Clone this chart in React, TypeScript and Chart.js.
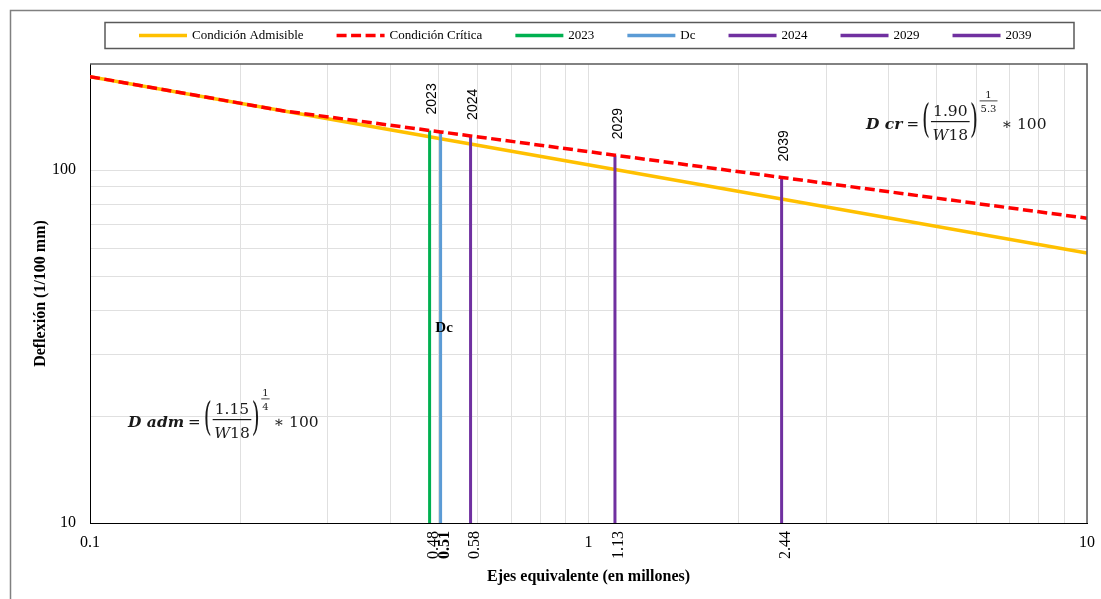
import React, { useEffect, useRef } from 'react';
import { Chart, registerables } from 'chart.js';

Chart.register(...registerables);

// ---------- DATA ----------
const admX = [0.1, 0.48, 0.505, 0.58, 1.13, 2.44, 10];
const admY = [184.2, 124.4, 122.8, 118.7, 100.4, 82.9, 58.2];

const critX = [0.1, 0.245, 0.48, 0.505, 0.58, 1.13, 2.44, 10];
const critY = [184.2, 147.2, 129.6, 128.4, 125.1, 110.3, 95.4, 73.1];

const markNames = ['2023', 'Dc', '2024', '2029', '2039'];
const markX = [0.48, 0.505, 0.58, 1.13, 2.44];
const markTop = [129.6, 128.4, 125.1, 110.3, 95.4];
const markBase = 10;
const markXLabels = ['0.48', '0.51', '0.58', '1.13', '2.44'];
const dcLabelY = 35.7;

const xGridValues = [0.1, 0.2, 0.3, 0.4, 0.5, 0.6, 0.7, 0.8, 0.9, 1, 2, 3, 4, 5, 6, 7, 8, 9, 10];
const xTickValues = [0.1, 1, 10];
const yGridValues = [10, 20, 30, 40, 50, 60, 70, 80, 90, 100, 200];
const yTickValues = [10, 100];

const seriesLabels = ['Condición Admisible', 'Condición Crítica'];
const xTitle = 'Ejes equivalente (en millones)';
const yTitle = 'Deflexión (1/100 mm)';

// ---------- STYLES ----------
const markColors = ['#00B050', '#5B9BD5', '#7030A0', '#7030A0', '#7030A0'];
const SERIF = '"Liberation Serif", "Times New Roman", serif';
const MATH = '"DejaVu Serif", serif';

type Piece = { t: string; italic?: boolean };

function drawFormula(
  ctx: CanvasRenderingContext2D,
  x0: number,
  base: number,
  lhs: string,
  num: string,
  den: Piece[],
  eNum: string,
  eDen: string
) {
  ctx.save();
  ctx.fillStyle = '#1a1a1a';
  ctx.textAlign = 'left';
  ctx.textBaseline = 'alphabetic';
  let x = x0;
  ctx.font = `bold italic 15.5px ${MATH}`;
  ctx.fillText(lhs, x, base);
  x += ctx.measureText(lhs).width + 4;
  ctx.font = `15px ${MATH}`;
  ctx.fillText('=', x, base);
  x += ctx.measureText('=').width + 3;

  const paren = (ch: string) => {
    ctx.save();
    ctx.font = `24px ${MATH}`;
    ctx.textBaseline = 'middle';
    const w = ctx.measureText(ch).width * 0.85;
    ctx.translate(x, base - 7);
    ctx.scale(0.85, 1.6);
    ctx.fillText(ch, 0, 0);
    ctx.restore();
    return w;
  };
  x += paren('(') + 1;

  const FS = 15.5;
  ctx.font = `${FS}px ${MATH}`;
  const wn = ctx.measureText(num).width;
  let wd = 0;
  den.forEach((p) => {
    ctx.font = `${p.italic ? 'italic ' : ''}${FS}px ${MATH}`;
    wd += ctx.measureText(p.t).width;
  });
  const fw = Math.max(wn, wd) + 3;
  ctx.font = `${FS}px ${MATH}`;
  ctx.fillText(num, x + (fw - wn) / 2, base - 13);
  let dx = x + (fw - wd) / 2;
  den.forEach((p) => {
    ctx.font = `${p.italic ? 'italic ' : ''}${FS}px ${MATH}`;
    ctx.fillText(p.t, dx, base + 10.5);
    dx += ctx.measureText(p.t).width;
  });
  ctx.fillRect(x, base - 8, fw, 1.2);
  x += fw + 0.5;
  x += paren(')') + 1.5;

  ctx.font = `10px ${MATH}`;
  const en = ctx.measureText(eNum).width;
  const ed = ctx.measureText(eDen).width;
  const ew = Math.max(en, ed) + 2;
  ctx.fillText(eNum, x + (ew - en) / 2, base - 31);
  ctx.fillText(eDen, x + (ew - ed) / 2, base - 17);
  ctx.fillRect(x, base - 28.5, ew, 0.8);
  x += ew + 4;

  ctx.font = `${FS}px ${MATH}`;
  ctx.fillText('\u2217 100', x, base);
  ctx.restore();
}

const decorPlugin = {
  id: 'decor',
  afterDraw(chart: any) {
    const ctx: CanvasRenderingContext2D = chart.ctx;
    const xs = chart.scales.x;
    const ys = chart.scales.y;
    const area = chart.chartArea;
    ctx.save();

    // outer frame
    ctx.strokeStyle = '#808080';
    ctx.lineWidth = 1.5;
    ctx.strokeRect(10.5, 10.5, 1300, 800);

    // plot top/right border
    ctx.strokeStyle = '#595959';
    ctx.lineWidth = 1.5;
    ctx.beginPath();
    ctx.moveTo(area.left, area.top);
    ctx.lineTo(area.right, area.top);
    ctx.lineTo(area.right, area.bottom);
    ctx.stroke();

    // legend
    ctx.strokeStyle = '#595959';
    ctx.lineWidth = 1.5;
    ctx.strokeRect(105, 22.5, 969, 26);
    let lx = 139;
    const cy = 35.5;
    ctx.font = `13px ${SERIF}`;
    ctx.textBaseline = 'middle';
    ctx.textAlign = 'left';
    chart.data.datasets.forEach((ds: any) => {
      ctx.beginPath();
      ctx.setLineDash(ds.borderDash || []);
      ctx.lineWidth = 3.5;
      ctx.strokeStyle = ds.borderColor;
      ctx.moveTo(lx, cy);
      ctx.lineTo(lx + 48, cy);
      ctx.stroke();
      ctx.setLineDash([]);
      ctx.fillStyle = '#000';
      ctx.fillText(ds.label, lx + 53, cy);
      lx += 53 + ctx.measureText(ds.label).width + 33;
    });

    // year labels above the vertical lines (skip Dc)
    ctx.font = `14px "Liberation Sans", Arial, sans-serif`;
    ctx.fillStyle = '#000';
    markNames.forEach((name, i) => {
      if (name === 'Dc') return;
      const px = xs.getPixelForValue(markX[i]);
      const py = ys.getPixelForValue(markTop[i]);
      ctx.save();
      ctx.translate(px + 3, py - 16);
      ctx.rotate(-Math.PI / 2);
      ctx.textAlign = 'left';
      ctx.textBaseline = 'middle';
      ctx.fillText(name, 0, 0);
      ctx.restore();
    });

    // Dc label
    const dcIdx = markNames.indexOf('Dc');
    ctx.font = `bold 15px ${SERIF}`;
    ctx.textAlign = 'center';
    ctx.textBaseline = 'middle';
    ctx.fillText('Dc', xs.getPixelForValue(markX[dcIdx]) + 3.5, ys.getPixelForValue(dcLabelY));

    // rotated x labels
    markXLabels.forEach((lab, i) => {
      const px = xs.getPixelForValue(markX[i]);
      ctx.save();
      ctx.font = `${markNames[i] === 'Dc' ? 'bold ' : ''}16px ${SERIF}`;
      ctx.translate(px + 4, area.bottom + 8);
      ctx.rotate(-Math.PI / 2);
      ctx.textAlign = 'right';
      ctx.textBaseline = 'middle';
      ctx.fillText(lab, 0, 0);
      ctx.restore();
    });

    // formulas
    drawFormula(ctx, 128, 427, 'D adm', '1.15', [{ t: 'W', italic: true }, { t: '18' }], '1', '4');
    drawFormula(ctx, 866, 129, 'D cr', '1.90', [{ t: 'W', italic: true }, { t: '18' }], '1', '5.3');

    ctx.restore();
  },
};

export default function App() {
  const ref = useRef<HTMLCanvasElement | null>(null);

  useEffect(() => {
    if (!ref.current) return;
    Chart.defaults.font.family = SERIF;
    const datasets: any[] = [
      {
        label: seriesLabels[0],
        data: admX.map((x, i) => ({ x, y: admY[i] })),
        borderColor: '#FFC000',
        backgroundColor: '#FFC000',
        borderWidth: 3.5,
        pointRadius: 0,
        order: 3,
      },
      {
        label: seriesLabels[1],
        data: critX.map((x, i) => ({ x, y: critY[i] })),
        borderColor: '#FF0000',
        backgroundColor: '#FF0000',
        borderDash: [10, 4.5],
        borderWidth: 3.5,
        pointRadius: 0,
        order: 0,
      },
      ...markNames.map((name, i) => ({
        label: name,
        data: [
          { x: markX[i], y: markBase },
          { x: markX[i], y: markTop[i] },
        ],
        borderColor: markColors[i],
        backgroundColor: markColors[i],
        borderWidth: 3,
        pointRadius: 0,
        order: 1,
      })),
    ];

    const chart = new Chart(ref.current, {
      type: 'line',
      data: { datasets },
      options: {
        responsive: false,
        animation: false,
        devicePixelRatio: 1,
        layout: { padding: { top: 64, right: 14, bottom: 0, left: 0 } },
        plugins: {
          legend: { display: false },
          tooltip: { enabled: false },
        },
        scales: {
          x: {
            type: 'logarithmic',
            min: 0.1,
            max: 10,
            afterBuildTicks: (s: any) => {
              s.ticks = xGridValues.map((v) => ({ value: v }));
            },
            afterFit: (s: any) => {
              s.height = 76;
              s.paddingLeft = 0;
              s.paddingRight = 0;
            },
            ticks: {
              autoSkip: false,
              maxRotation: 0,
              minRotation: 0,
              padding: 10,
              color: '#000',
              font: { family: SERIF, size: 16 },
              callback: (v: any) => (xTickValues.includes(Number(v)) ? String(v) : ''),
            },
            grid: { color: '#e0e0e0', lineWidth: 1, drawTicks: false },
            border: { color: '#000', width: 1 },
            title: {
              display: true,
              text: xTitle,
              color: '#000',
              font: { family: SERIF, size: 16, weight: 'bold' },
              padding: { top: 0, bottom: 13 },
            },
          },
          y: {
            type: 'logarithmic',
            min: 10,
            max: 200,
            afterBuildTicks: (s: any) => {
              s.ticks = yGridValues.map((v) => ({ value: v }));
            },
            afterFit: (s: any) => {
              s.width = 90;
              s.paddingTop = 0;
              s.paddingBottom = 0;
            },
            ticks: {
              autoSkip: false,
              padding: 14,
              color: '#000',
              font: { family: SERIF, size: 16 },
              callback: (v: any) => (yTickValues.includes(Number(v)) ? String(v) : ''),
            },
            grid: {
              color: (c: any) => (c.tick && c.tick.value > 100 ? 'rgba(0,0,0,0)' : '#e0e0e0'),
              lineWidth: 1,
              drawTicks: false,
            },
            border: { color: '#000', width: 1 },
            title: {
              display: true,
              text: yTitle,
              color: '#000',
              font: { family: SERIF, size: 16, weight: 'bold' },
              padding: { top: 31, bottom: 0 },
            },
          },
        },
      } as any,
      plugins: [decorPlugin],
    });
    return () => chart.destroy();
  }, []);

  return (
    <div style={{ position: 'fixed', left: 0, top: 0, width: 1101, height: 599, background: '#fff' }}>
      <canvas ref={ref} width={1101} height={599} style={{ display: 'block' }} />
    </div>
  );
}
